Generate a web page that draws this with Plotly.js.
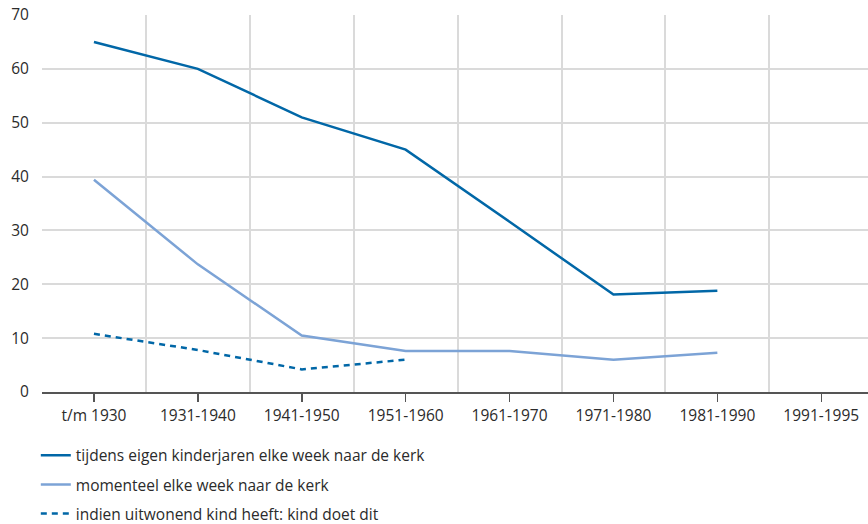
<!DOCTYPE html>
<html>
<head>
<meta charset="utf-8">
<script src="https://cdn.plot.ly/plotly-3.0.1.min.js"></script>
<style>html,body{margin:0;padding:0;background:#fff;}#chart{width:868px;height:524px;}</style>
</head>
<body>
<div id="chart"></div>
<script>
const categories = ["t/m 1930", "1931-1940", "1941-1950", "1951-1960", "1961-1970", "1971-1980", "1981-1990", "1991-1995"];
const seriesNames = [
  "tijdens eigen kinderjaren elke week naar de kerk",
  "momenteel elke week naar de kerk",
  "indien uitwonend kind heeft: kind doet dit"
];
const kinderjaren = [65, 60, 51, 45, 31.6, 18.1, 18.8];
const momenteel = [39.4, 23.7, 10.5, 7.6, 7.6, 6.0, 7.3];
const kindDoetDit = [10.8, 7.8, 4.2, 6.0];
const yTicks = [0, 10, 20, 30, 40, 50, 60, 70];

const idx = arr => arr.map((_, i) => i);
const darkBlue = "#0167a7";
const lightBlue = "#7ca3d6";

const traces = [
  {x: idx(kinderjaren), y: kinderjaren, name: seriesNames[0], mode: "lines", legendgroup: "a",
   line: {color: darkBlue, width: 2.5}},
  {x: idx(momenteel), y: momenteel, name: seriesNames[1], mode: "lines", legendgroup: "b",
   line: {color: lightBlue, width: 2.5}},
  {x: idx(kindDoetDit), y: kindDoetDit, name: seriesNames[2], mode: "lines", legendgroup: "c",
   line: {color: darkBlue, width: 2.5, dash: "6px,5px"}}
];

const boundaries = categories.map((_, i) => i - 0.5).concat([categories.length - 0.5]);

const layout = {
  width: 868, height: 524,
  margin: {l: 42, r: 0, t: 15, b: 132, autoexpand: false},
  paper_bgcolor: "#fff", plot_bgcolor: "#fff",
  font: {family: "Open Sans, Noto Sans, sans-serif", size: 15.5, color: "#2b2b2b"},
  showlegend: true,
  legend: {
    x: -0.0075, xanchor: "left", y: -0.124, yanchor: "top",
    orientation: "v", traceorder: "grouped", tracegroupgap: 6,
    font: {size: 15.5, color: "#2b2b2b"}, bgcolor: "rgba(0,0,0,0)"
  },
  xaxis: {
    type: "linear",
    range: [-0.5, 7.45],
    tickvals: idx(categories), ticktext: categories,
    showgrid: false, zeroline: false,
    ticks: "outside", ticklen: 8, tickwidth: 1.5, tickcolor: "#555",
    showline: true, linecolor: "#555", linewidth: 2,
    minor: {tickvals: boundaries, showgrid: true, gridcolor: "#dadada", gridwidth: 2, ticks: ""},
    fixedrange: true
  },
  yaxis: {
    range: [0, 70],
    tickvals: yTicks,
    showgrid: true, gridcolor: "#dadada", gridwidth: 2,
    zeroline: false, showline: false,
    ticks: "outside", ticklen: 9, tickcolor: "rgba(0,0,0,0)",
    fixedrange: true
  }
};

Plotly.newPlot("chart", traces, layout, {displayModeBar: false, staticPlot: true});
</script>
</body>
</html>
